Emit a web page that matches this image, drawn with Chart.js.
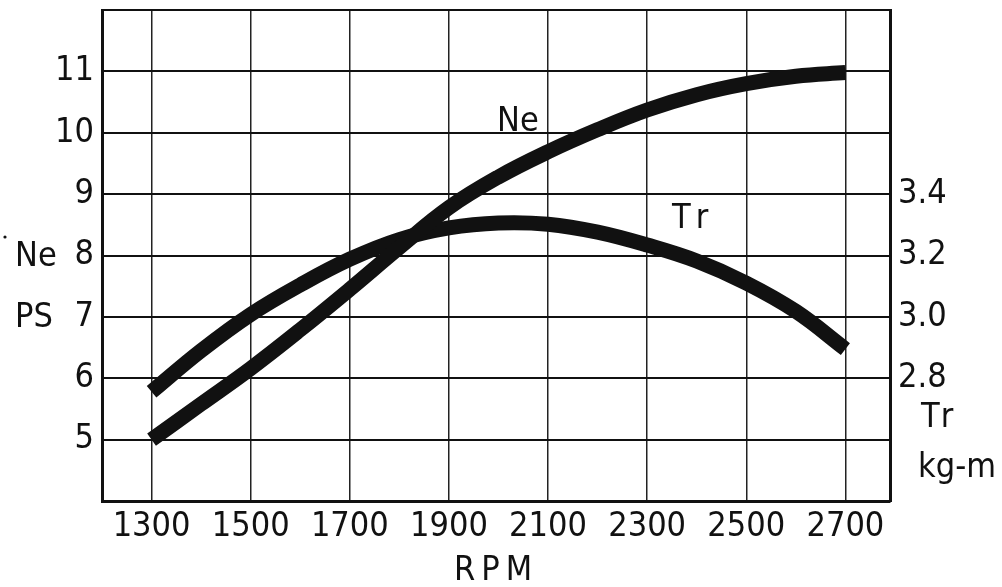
<!DOCTYPE html>
<html><head><meta charset="utf-8">
<script src="https://cdn.jsdelivr.net/npm/chart.js@4.4.1/dist/chart.umd.min.js"></script>
<style>html,body{margin:0;padding:0;background:#fff}#wrap{width:1002px;height:587px}</style>
</head><body><div id="wrap"><canvas id="c" width="1002" height="587"></canvas></div>
<script>
const rpm = [1300,1400,1500,1600,1700,1800,1900,2000,2100,2200,2300,2400,2500,2600,2700];
const neValues = [5.0,5.58,6.16,6.79,7.45,8.13,8.78,9.28,9.69,10.05,10.37,10.62,10.8,10.92,10.98];
const trValues = [2.756,2.89,3.008,3.104,3.188,3.252,3.29,3.306,3.302,3.276,3.234,3.182,3.11,3.018,2.895];
const xTickValues = [1300,1500,1700,1900,2100,2300,2500,2700];
const xTickLabels = ['1300','1500','1700','1900','2100','2300','2500','2700'];
const neGridValues = [4,5,6,7,8,9,10,11,12];
const neTickLabels = {5:'5',6:'6',7:'7',8:'8',9:'9',10:'10',11:'11'};
const trTickValues = [2.8,3.0,3.2,3.4];
const trTickLabels = ['2.8','3.0','3.2','3.4'];

const FONT = "'Liberation Sans Narrow','DejaVu Sans Condensed','Liberation Sans',sans-serif";
const INK = '#111';

const textPlugin = {
  id: 'texts',
  afterDraw(chart) {
    const ctx = chart.ctx;
    const ys = chart.scales.y;
    ctx.save();
    ctx.fillStyle = INK;
    ctx.font = '34px ' + FONT;
    ctx.textBaseline = 'middle';
    ctx.textAlign = 'left';
    ctx.fillText('Ne', 15, ys.getPixelForValue(8) + 2);
    ctx.fillText('PS', 15, ys.getPixelForValue(7) + 1);
    ctx.beginPath(); ctx.arc(5, 237, 1.6, 0, Math.PI * 2); ctx.fill();
    ctx.fillText('Ne', 497, 122);
    ctx.letterSpacing = '10px';
    ctx.fillText('Tr', 672, 219);
    ctx.letterSpacing = '6px';
    ctx.fillText('Tr', 921, 418);
    ctx.letterSpacing = '0px';
    ctx.fillText('kg-m', 918, 468);
    ctx.letterSpacing = '6px';
    ctx.textAlign = 'center';
    ctx.fillText('RPM', 496, 571);
    ctx.restore();
  }
};

const noPadV = s => { s.paddingTop = 0; s.paddingBottom = 0; };

new Chart(document.getElementById('c'), {
  type: 'line',
  data: {
    datasets: [
      { label: 'Ne', data: rpm.map((r, i) => ({x: r, y: neValues[i]})), yAxisID: 'y',
        borderColor: INK, borderWidth: 15, borderCapStyle: 'butt', borderJoinStyle: 'round',
        pointRadius: 0, tension: 0.4, fill: false },
      { label: 'Tr', data: rpm.map((r, i) => ({x: r, y: trValues[i]})), yAxisID: 'y2',
        borderColor: INK, borderWidth: 15, borderCapStyle: 'butt', borderJoinStyle: 'round',
        pointRadius: 0, tension: 0.4, fill: false }
    ]
  },
  options: {
    responsive: false, animation: false, devicePixelRatio: 1,
    layout: { padding: { top: 10, left: 0, right: 0, bottom: 0 } },
    plugins: { legend: { display: false }, tooltip: { enabled: false } },
    scales: {
      x: {
        type: 'linear', min: 1200, max: 2790,
        afterBuildTicks: s => { s.ticks = xTickValues.map(v => ({value: v})); },
        afterFit: s => { s.height = 86; s.paddingLeft = 0; s.paddingRight = 0; },
        ticks: { color: INK, font: { family: FONT, size: 34 }, padding: 6,
          callback: v => xTickLabels[xTickValues.indexOf(v)], maxRotation: 0, autoSkip: false },
        grid: { color: '#222', lineWidth: 1.5, drawTicks: false },
        border: { display: true, color: INK, width: 3 }
      },
      y: {
        position: 'left', min: 4, max: 12,
        afterBuildTicks: s => { s.ticks = neGridValues.map(v => ({value: v})); },
        afterFit: s => { s.width = 102; noPadV(s); },
        ticks: { color: INK, font: { family: FONT, size: 34 }, padding: 8,
          callback: v => neTickLabels[v] || '' },
        grid: { color: INK, lineWidth: 2, drawTicks: false },
        border: { display: true, color: INK, width: 3 }
      },
      y2: {
        position: 'right', min: 2.4, max: 4.0,
        afterBuildTicks: s => { s.ticks = trTickValues.map(v => ({value: v})); },
        afterFit: s => { s.width = 112; noPadV(s); },
        ticks: { color: INK, font: { family: FONT, size: 34 }, padding: 8,
          callback: v => trTickLabels[trTickValues.indexOf(v)] },
        grid: { display: false, drawTicks: false },
        border: { display: true, color: INK, width: 3 }
      }
    }
  },
  plugins: [textPlugin]
});
</script>
</body></html>
